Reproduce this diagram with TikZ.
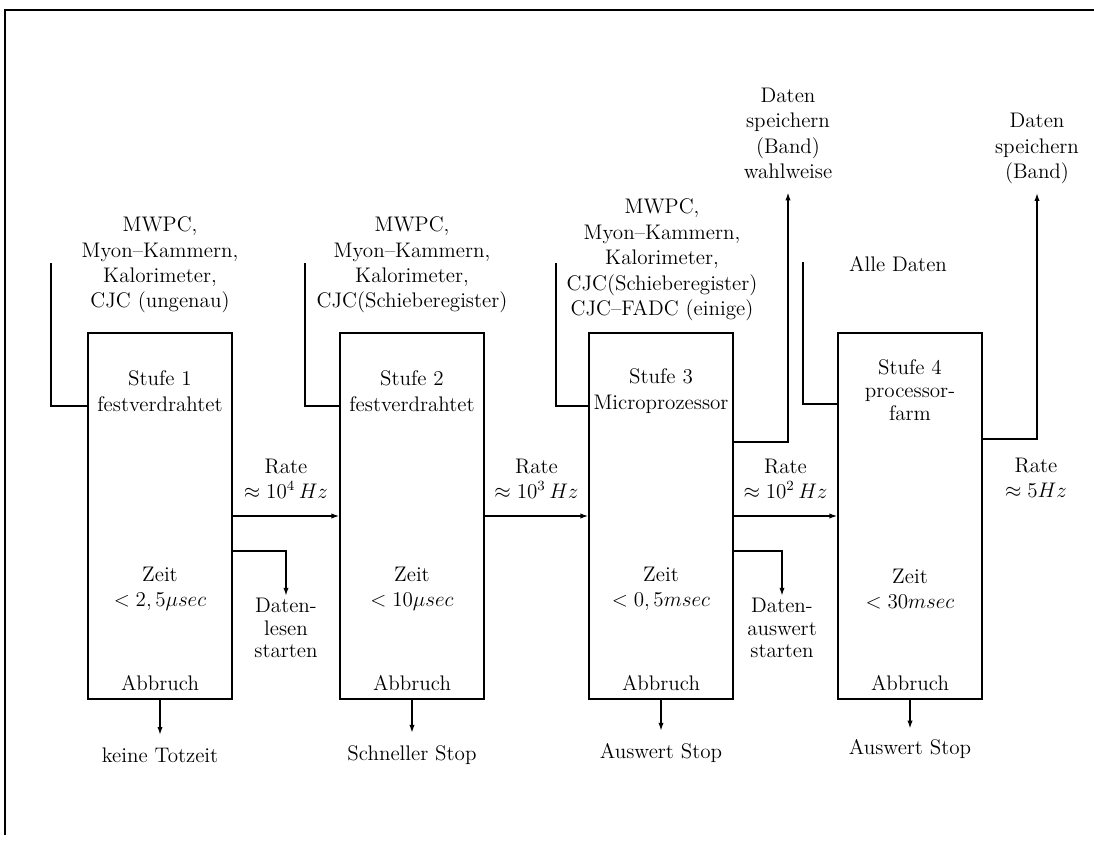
\documentclass[tikz,border=0pt]{standalone}
\usepackage{tikz}
\usetikzlibrary{positioning, arrows.meta}

\tikzset{
  stage/.style={draw, line width=0.8pt, minimum width=2.88cm, minimum height=7.32cm, inner sep=0pt},
  txt/.style={align=center, inner sep=1pt, font=\fontsize{12}{14.5}\selectfont},
  wire/.style={line width=0.8pt},
  arr/.style={wire, -{Latex[length=4.5pt, width=3pt]}},
}

\begin{document}
\begin{tikzpicture}[x=0.02cm, y=-0.02cm]
  \useasboundingbox (0,0) rectangle (1094,841);
  \draw[line width=0.6pt] (1094,10) -- (5,10) -- (5,835);

  % die vier Triggerstufen
  \node[stage] (s1) at (160,516) {};
  \node[stage] (s2) at (412,516) {};
  \node[stage] (s3) at (661,516) {};
  \node[stage] (s4) at (910,516) {};

  \node[txt] (n1) at ([yshift=-1.18cm]s1.north) {Stufe 1\\festverdrahtet};
  \node[txt] (n2) at ([yshift=-1.18cm]s2.north) {Stufe 2\\festverdrahtet};
  \node[txt] (n3) at ([yshift=-1.18cm]s3.north) {Stufe 3\\Microprozessor};
  \node[txt, font=\fontsize{12}{13}\selectfont] (n4) at ([yshift=-1.16cm]s4.north) {Stufe 4\\processor-\\farm};

  \node[txt] (z1) at ([yshift=-1.46cm]s1.center) {Zeit\\$<2,5\mu sec$};
  \node[txt] (z2) at ([yshift=-1.46cm]s2.center) {Zeit\\$<10\mu sec$};
  \node[txt] (z3) at ([yshift=-1.46cm]s3.center) {Zeit\\$<0,5msec$};
  \node[txt] (z4) at ([yshift=-1.46cm]s4.center) {Zeit\\$<30msec$};

  \node[txt] (a1) at ([yshift=0.34cm]s1.south) {Abbruch};
  \node[txt] (a2) at ([yshift=0.34cm]s2.south) {Abbruch};
  \node[txt] (a3) at ([yshift=0.34cm]s3.south) {Abbruch};
  \node[txt] (a4) at ([yshift=0.34cm]s4.south) {Abbruch};

  % Eingaenge
  \node[txt] (m1) at (160,265) {MWPC,\\Myon--Kammern,\\Kalorimeter,\\CJC (ungenau)};
  \node[txt] (m2) at (412,265) {MWPC,\\Myon--Kammern,\\Kalorimeter,\\CJC(Schieberegister)};
  \node[txt] (m3) at (662,260) {MWPC,\\Myon--Kammern,\\Kalorimeter,\\CJC(Schieberegister)\\CJC--FADC (einige)};
  \node[txt] (m4) at (898,264) {Alle Daten};

  \coordinate (e1) at (51,263);
  \coordinate (e2) at (305,263);
  \coordinate (e3) at (556,263);
  \coordinate (e4) at (803,262);
  \draw[wire] (e1) |- (s1.west |- 0,406);
  \draw[wire] (e2) |- (s2.west |- 0,406);
  \draw[wire] (e3) |- (s3.west |- 0,406);
  \draw[wire] (e4) |- (s4.west |- 0,404);

  % Raten
  \draw[arr] (s1.east) -- node[txt, above=0.3cm] (r1) {Rate\\$\approx 10^4\,Hz$} (s2.west);
  \draw[arr] (s2.east) -- node[txt, above=0.3cm] (r2) {Rate\\$\approx 10^3\,Hz$} (s3.west);
  \draw[arr] (s3.east) -- node[txt, above=0.3cm] (r3) {Rate\\$\approx 10^2\,Hz$} (s4.west);
  \node[txt] (r4) at (1036,478) {Rate\\$\approx 5Hz$};

  % Datenlesen / Auswertung starten
  \node[txt, font=\fontsize{12}{13}\selectfont] (l1) at (286,628) {Daten-\\lesen\\starten};
  \node[txt, font=\fontsize{12}{13}\selectfont] (l3) at (782,628) {Daten-\\auswert\\starten};
  \draw[arr] (s1.east |- 0,551) -| (l1.north);
  \draw[arr] (s3.east |- 0,551) -| (l3.north);

  % Abbruch
  \node[txt] (o1) at (160,755) {keine Totzeit};
  \node[txt] (o2) at (412,755) {Schneller Stop};
  \node[txt] (o3) at (661,753) {Auswert Stop};
  \node[txt] (o4) at (910,749) {Auswert Stop};
  \draw[arr, shorten >=6pt] (s1.south) -- (o1.north);
  \draw[arr, shorten >=6pt] (s2.south) -- (o2.north);
  \draw[arr, shorten >=6pt] (s3.south) -- (o3.north);
  \draw[arr, shorten >=5pt] (s4.south) -- (o4.north);

  % Daten speichern
  \node[txt, anchor=south] (d3) at (788,181) {Daten\\speichern\\(Band)\\wahlweise};
  \node[txt, anchor=south] (d4) at (1037,186) {Daten\\speichern\\(Band)};
  \draw[arr, shorten >=6.5pt] (s3.east |- 0,442) -| (d3.south);
  \draw[arr, shorten >=4pt] (s4.east |- 0,439) -| (d4.south);
\end{tikzpicture}
\end{document}
